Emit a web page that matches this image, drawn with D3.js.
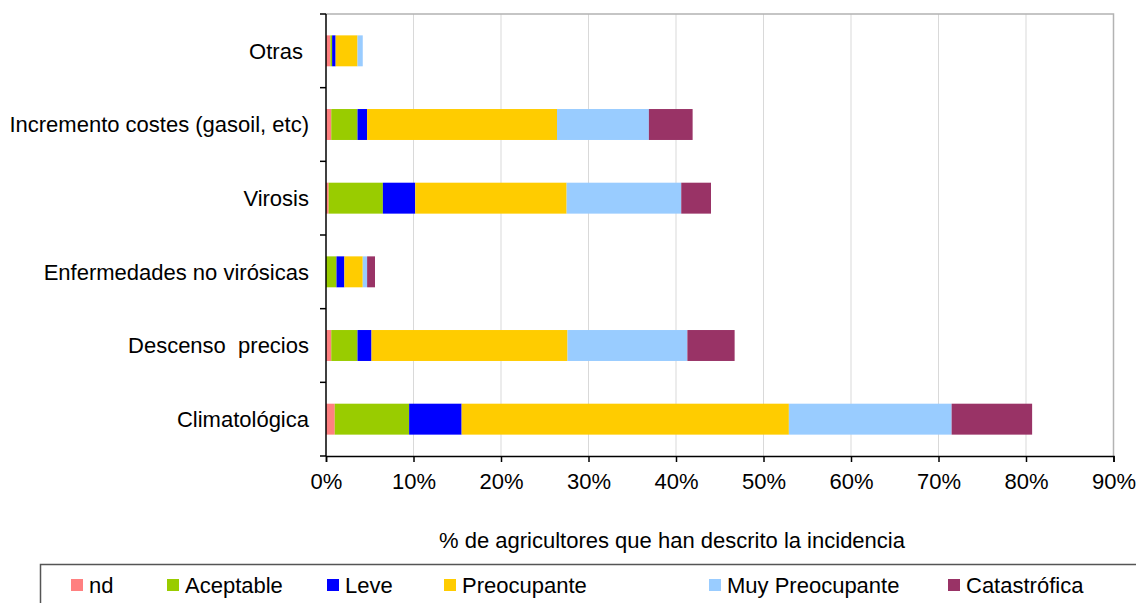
<html>
<head>
<meta charset="utf-8">
<script src="https://d3js.org/d3.v7.min.js"></script>
<style>
  body { margin: 0; background: #fff; }
  svg text { font-family: "Liberation Sans", Arial, sans-serif; fill: #000; }
  .grid line { stroke: #d9d9d9; }
</style>
</head>
<body>
<svg id="chart" width="1136" height="603"></svg>
<script>
// categories, bottom to top as drawn
var categories = ["Climatológica", "Descenso  precios", "Enfermedades no virósicas", "Virosis", "Incremento costes (gasoil, etc)", "Otras "];
var series = ["nd", "Aceptable", "Leve", "Preocupante", "Muy Preocupante", "Catastrófica"];
var colors = ["#FF8080", "#99CC00", "#0000FF", "#FFCC00", "#99CCFF", "#993366"];

// percentages per series, in the order of categories
var nd          = [1.0, 0.6, 0.0, 0.3, 0.6, 0.5];
var aceptable   = [8.5, 3.0, 1.2, 6.2, 3.0, 0.2];
var leve        = [6.0, 1.6, 0.9, 3.7, 1.1, 0.4];
var preocupante = [37.4, 22.4, 2.1, 17.3, 21.7, 2.5];
var muyPreoc    = [18.6, 13.7, 0.5, 13.1, 10.5, 0.6];
var catastrof   = [9.2, 5.4, 0.9, 3.4, 5.0, 0.0];

var xTicks = [0, 10, 20, 30, 40, 50, 60, 70, 80, 90];
var xTitle = "% de agricultores que han descrito la incidencia";

var values = [nd, aceptable, leve, preocupante, muyPreoc, catastrof];
var rows = categories.map(function(c, i) {
    var r = {cat: c};
    series.forEach(function(s, j) { r[s] = values[j][i]; });
    return r;
});

var svg = d3.select("#chart");
var mLeft = 326, mRight = 1113.5, mTop = 14, mBottom = 456;
var fs = "22px";

var x = d3.scaleLinear().domain([0, 90]).range([mLeft, mRight]);
var y = d3.scaleBand().domain(categories.slice().reverse()).range([mTop, mBottom])
    .paddingInner(0.58).paddingOuter(0.29);

// gridlines
svg.append("g").attr("class", "grid")
    .selectAll("line").data(xTicks.slice(1)).enter().append("line")
    .attr("x1", d => x(d)).attr("x2", d => x(d))
    .attr("y1", mTop).attr("y2", mBottom);

// frame top / right
svg.append("path")
    .attr("d", "M" + mLeft + "," + mTop + "H" + mRight + "V" + mBottom)
    .attr("fill", "none").attr("stroke", "#b3b3b3").attr("stroke-width", 1.5);

var stack = d3.stack().keys(series)(rows);

svg.append("g").selectAll("g").data(stack).enter().append("g")
    .attr("fill", (d, i) => colors[i])
    .selectAll("rect").data(d => d).enter().append("rect")
    .attr("x", d => x(d[0]))
    .attr("y", d => y(d.data.cat))
    .attr("width", d => Math.max(0, x(d[1]) - x(d[0])))
    .attr("height", y.bandwidth());

// y axis (ticks between categories)
var yAxis = svg.append("g");
yAxis.append("line").attr("x1", mLeft).attr("x2", mLeft).attr("y1", mTop).attr("y2", mBottom)
    .attr("stroke", "#000").attr("stroke-width", 1.5);
d3.range(categories.length + 1).forEach(function(i) {
    var yy = mTop + i * (mBottom - mTop) / categories.length;
    yAxis.append("line").attr("x1", mLeft - 6).attr("x2", mLeft).attr("y1", yy).attr("y2", yy)
        .attr("stroke", "#000").attr("stroke-width", 1.5);
});
yAxis.selectAll("text").data(categories).enter().append("text")
    .attr("x", mLeft - 17)
    .attr("y", d => y(d) + y.bandwidth() / 2)
    .attr("dy", "0.35em")
    .attr("text-anchor", "end")
    .style("font-size", fs)
    .style("white-space", "pre")
    .text(d => d);

// x axis
var xAxis = d3.axisBottom(x).tickValues(xTicks).tickFormat(d => d + "%").tickSize(6).tickPadding(11);
var gx = svg.append("g").attr("transform", "translate(0," + mBottom + ")").call(xAxis);
gx.select(".domain").attr("stroke-width", 1.5);
gx.selectAll(".tick line").attr("stroke-width", 1.5);
gx.selectAll("text").style("font-size", fs).style("font-family", '"Liberation Sans", Arial, sans-serif');

svg.append("text")
    .attr("x", 672).attr("y", 548)
    .attr("text-anchor", "middle")
    .style("font-size", fs)
    .text(xTitle);

// legend
var lg = svg.append("g");
lg.append("rect").attr("x", 40.5).attr("y", 564.5).attr("width", 1200).attr("height", 60)
    .attr("fill", "#fff").attr("stroke", "#555").attr("stroke-width", 1.5);
var legendX = [71, 167, 327, 444, 709, 948];
series.forEach(function(s, i) {
    lg.append("rect").attr("x", legendX[i]).attr("y", 579).attr("width", 12).attr("height", 12)
        .attr("fill", colors[i]);
    lg.append("text").attr("x", legendX[i] + 18).attr("y", 585).attr("dy", "0.35em")
        .style("font-size", fs).text(s);
});
</script>
</body>
</html>
